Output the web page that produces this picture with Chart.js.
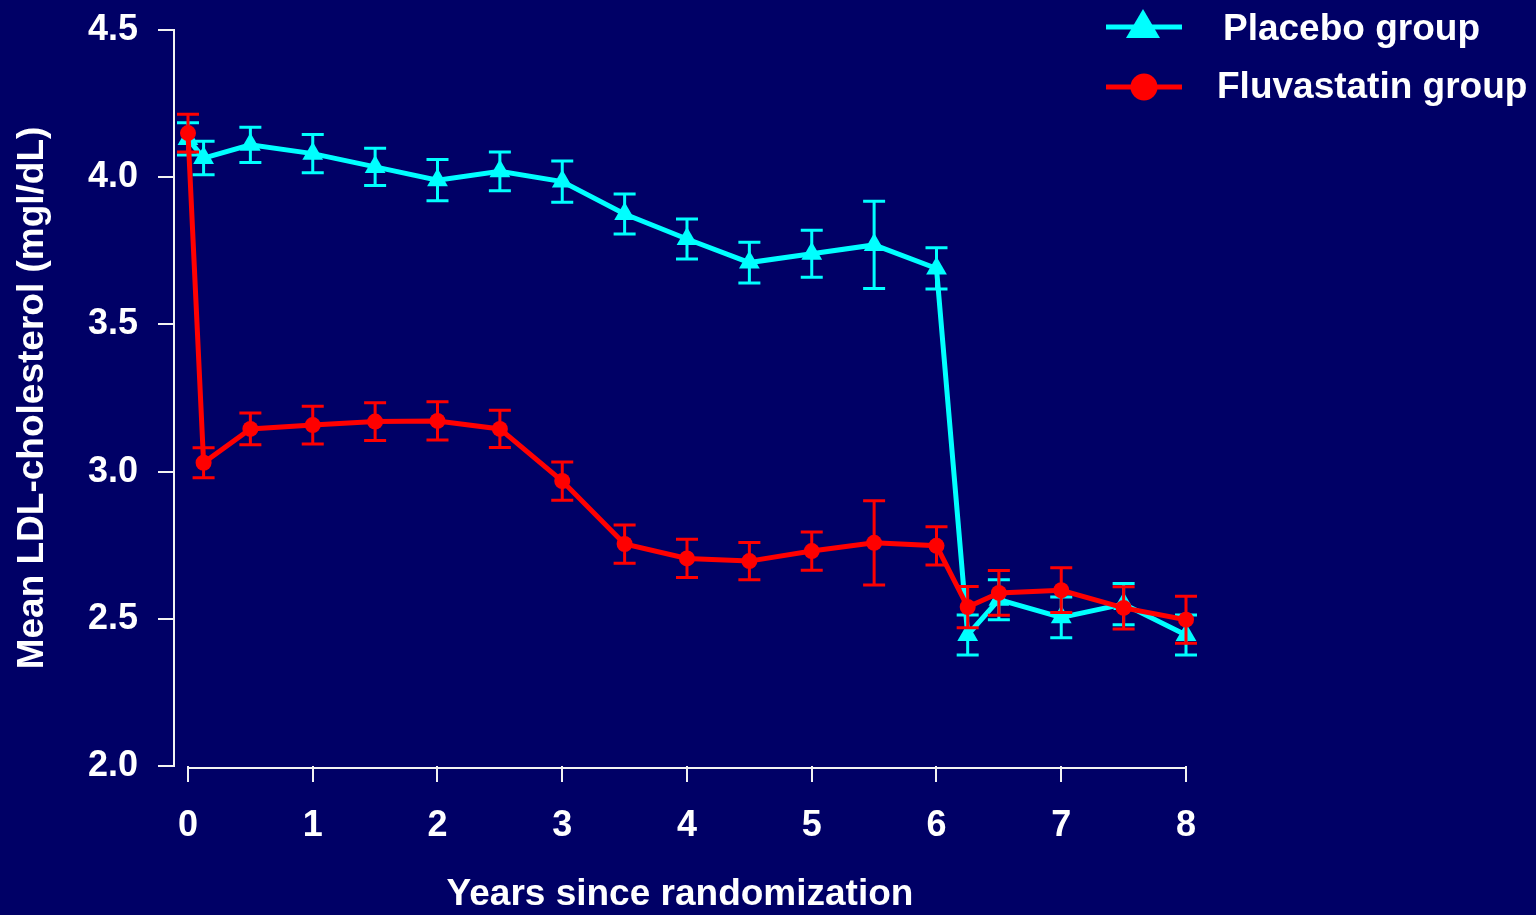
<!DOCTYPE html>
<html>
<head>
<meta charset="utf-8">
<title>Mean LDL-cholesterol</title>
<script src="https://cdn.jsdelivr.net/npm/chart.js@4.4.1/dist/chart.umd.min.js"></script>
<style>
  html, body { margin: 0; padding: 0; background: #000066; }
  #wrap { position: relative; width: 1536px; height: 915px; }
</style>
</head>
<body>
<div id="wrap"><canvas id="chart-ldl"></canvas></div>
<script>
/* LDL-cholesterol over follow-up, placebo vs fluvastatin, mean ± error */

const years = [0, 0.125, 0.5, 1, 1.5, 2, 2.5, 3, 3.5, 4, 4.5, 5, 5.5, 6, 6.25, 6.5, 7, 7.5, 8];
const xTicks = [0, 1, 2, 3, 4, 5, 6, 7, 8];
const yTicks = [2.0, 2.5, 3.0, 3.5, 4.0, 4.5];

const placeboMean = [4.13, 4.065, 4.11, 4.08, 4.035, 3.99, 4.02, 3.985, 3.875, 3.79, 3.71, 3.74, 3.77, 3.69, 2.445, 2.565, 2.505, 2.55, 2.445];
const placeboErr  = [0.055, 0.057, 0.06, 0.065, 0.063, 0.07, 0.066, 0.07, 0.068, 0.068, 0.069, 0.08, 0.148, 0.07, 0.068, 0.068, 0.069, 0.07, 0.068];

const fluvaMean = [4.15, 3.03, 3.145, 3.158, 3.17, 3.172, 3.145, 2.968, 2.754, 2.705, 2.696, 2.73, 2.758, 2.748, 2.54, 2.588, 2.597, 2.537, 2.497];
const fluvaErr  = [0.064, 0.051, 0.054, 0.064, 0.064, 0.065, 0.063, 0.065, 0.065, 0.065, 0.063, 0.065, 0.143, 0.065, 0.07, 0.076, 0.076, 0.072, 0.08];

const CYAN = '#00ffff';
const RED = '#ff0000';
const AXIS = '#f2f2f2';
const FONT = '"Liberation Sans", Arial, Helvetica, sans-serif';

const errors = [placeboErr, fluvaErr];

/* error bars go down just before each series so markers sit on top */
const errorBars = {
  id: 'errorBars',
  beforeDatasetDraw(chart, args) {
    const ds = chart.data.datasets[args.index];
    const err = errors[args.index];
    const y = chart.scales.y;
    const ctx = chart.ctx;
    ctx.save();
    ctx.strokeStyle = ds.borderColor;
    ctx.lineWidth = 3;
    args.meta.data.forEach((pt, i) => {
      const v = ds.data[i].y;
      const top = y.getPixelForValue(v + err[i]);
      const bot = y.getPixelForValue(v - err[i]);
      ctx.beginPath();
      ctx.moveTo(pt.x, top); ctx.lineTo(pt.x, bot);
      ctx.moveTo(pt.x - 11, top); ctx.lineTo(pt.x + 11, top);
      ctx.moveTo(pt.x - 11, bot); ctx.lineTo(pt.x + 11, bot);
      ctx.stroke();
    });
    ctx.restore();
  }
};

/* x axis line starts at year 0, detached from the y axis */
const xAxisLine = {
  id: 'xAxisLine',
  afterDraw(chart) {
    const x = chart.scales.x;
    const ctx = chart.ctx;
    const yy = chart.chartArea.bottom + 2;
    ctx.save();
    ctx.strokeStyle = AXIS;
    ctx.lineWidth = 2;
    ctx.beginPath();
    ctx.moveTo(x.getPixelForValue(xTicks[0]), yy);
    ctx.lineTo(x.getPixelForValue(xTicks[xTicks.length - 1]), yy);
    ctx.stroke();
    ctx.restore();
  }
};

/* legend: line with marker, label to the right */
const sideLegend = {
  id: 'sideLegend',
  afterDraw(chart) {
    const ctx = chart.ctx;
    ctx.save();
    ctx.lineWidth = 5;

    ctx.strokeStyle = CYAN;
    ctx.beginPath(); ctx.moveTo(1106, 27); ctx.lineTo(1182, 27); ctx.stroke();
    ctx.fillStyle = CYAN;
    ctx.beginPath();
    ctx.moveTo(1143, 9); ctx.lineTo(1160, 38); ctx.lineTo(1126, 38);
    ctx.closePath(); ctx.fill();

    ctx.strokeStyle = RED;
    ctx.beginPath(); ctx.moveTo(1106, 87); ctx.lineTo(1182, 87); ctx.stroke();
    ctx.fillStyle = RED;
    ctx.beginPath(); ctx.arc(1144, 87, 13.5, 0, Math.PI * 2); ctx.fill();

    ctx.fillStyle = '#ffffff';
    ctx.font = 'bold 37px ' + FONT;
    ctx.textBaseline = 'alphabetic';
    ctx.fillText('Placebo group', 1223, 40);
    ctx.fillText('Fluvastatin group', 1217, 98);
    ctx.restore();
  }
};

new Chart(document.getElementById('chart-ldl'), {
  type: 'line',
  data: {
    datasets: [
      {
        label: 'Placebo group',
        data: years.map((x, i) => ({ x, y: placeboMean[i] })),
        borderColor: CYAN,
        backgroundColor: CYAN,
        borderWidth: 5,
        pointStyle: 'triangle',
        pointRadius: 12,
        pointBorderWidth: 0,
        tension: 0,
        clip: false,
        order: 1,
      },
      {
        label: 'Fluvastatin group',
        data: years.map((x, i) => ({ x, y: fluvaMean[i] })),
        borderColor: RED,
        backgroundColor: RED,
        borderWidth: 5,
        pointStyle: 'circle',
        pointRadius: 8,
        pointBorderWidth: 0,
        tension: 0,
        clip: false,
        order: 0,
      },
    ],
  },
  options: {
    responsive: true,
    maintainAspectRatio: false,
    animation: false,
    devicePixelRatio: 1,
    layout: { padding: { left: 0, top: 30, right: 350, bottom: 0 } },
    plugins: {
      legend: { display: false },
      tooltip: { enabled: false },
    },
    scales: {
      x: {
        type: 'linear',
        min: -0.1122,
        max: 8,
        afterBuildTicks: s => { s.ticks = xTicks.map(v => ({ value: v })); },
        afterFit: s => { s.height = 149; },
        border: { display: false },
        grid: { drawOnChartArea: false, drawTicks: true, tickLength: 16, color: AXIS, lineWidth: 2 },
        ticks: {
          color: '#ffffff',
          padding: 22,
          maxRotation: 0,
          font: { family: FONT, size: 36, weight: 'bold' },
          callback: v => String(v),
        },
        title: {
          display: true,
          text: 'Years since randomization',
          color: '#ffffff',
          padding: { top: 0, bottom: 0 },
          font: { family: FONT, size: 37, weight: 'bold', lineHeight: 1.1 },
        },
      },
      y: {
        min: 2.0,
        max: 4.5,
        afterBuildTicks: s => { s.ticks = yTicks.map(v => ({ value: v })); },
        afterFit: s => { s.width = 174; s.paddingTop = 30; s.paddingBottom = 0; },
        border: { display: true, color: AXIS, width: 2 },
        grid: { drawOnChartArea: false, drawTicks: true, tickLength: 16, color: AXIS, lineWidth: 2 },
        ticks: {
          color: '#ffffff',
          padding: 20,
          font: { family: FONT, size: 36, weight: 'bold' },
          callback: v => Number(v).toFixed(1),
        },
        title: {
          display: true,
          text: 'Mean LDL-cholesterol (mgl/dL)',
          color: '#ffffff',
          padding: { top: 11, bottom: 0 },
          font: { family: FONT, size: 37, weight: 'bold', lineHeight: 1.2 },
        },
      },
    },
  },
  plugins: [errorBars, xAxisLine, sideLegend],
});
</script>
</body>
</html>
